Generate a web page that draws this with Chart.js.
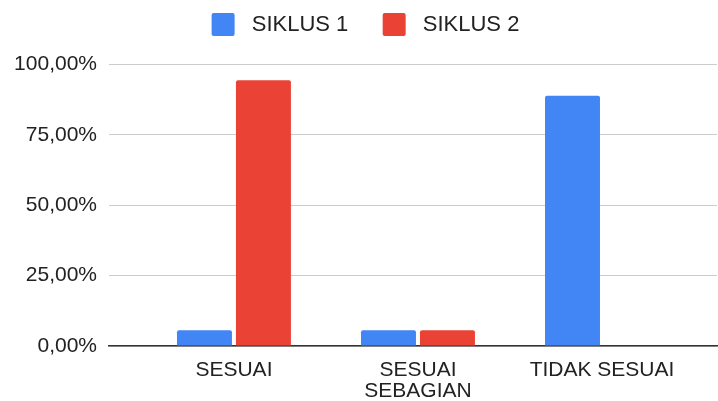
<!DOCTYPE html>
<html>
<head>
<meta charset="utf-8">
<script src="https://cdn.jsdelivr.net/npm/chart.js@4/dist/chart.umd.min.js"></script>
<style>
  html, body { margin: 0; padding: 0; background: #fff; }
  #wrap { width: 718px; height: 401px; }
</style>
</head>
<body>
<div id="wrap"><canvas id="chart"></canvas></div>
<script>
// data
const categories = [['SESUAI'], ['SESUAI', 'SEBAGIAN'], ['TIDAK SESUAI']];
const siklus1 = [5.56, 5.56, 88.89];
const siklus2 = [94.44, 5.56, 0];
const yTicks = [0, 25, 50, 75, 100];

const FONT = "'Liberation Sans', Arial, sans-serif";
const TEXT = '#222';

const toPoints = arr => arr.map((v, i) => ({x: i, y: v}));

// push the plot area down below the legend
const legendGap = {
  id: 'legendGap',
  beforeInit(chart) {
    const fit = chart.legend.fit;
    chart.legend.fit = function () { fit.call(this); this.height += 18.6; };
  }
};

new Chart(document.getElementById('chart'), {
  type: 'bar',
  data: {
    datasets: [
      {label: 'SIKLUS 1', data: toPoints(siklus1), backgroundColor: '#4285F4',
       borderRadius: {topLeft: 2, topRight: 2}, borderSkipped: 'bottom'},
      {label: 'SIKLUS 2', data: toPoints(siklus2), backgroundColor: '#EA4335',
       borderRadius: {topLeft: 2, topRight: 2}, borderSkipped: 'bottom'}
    ]
  },
  plugins: [legendGap],
  options: {
    responsive: true,
    maintainAspectRatio: false,
    animation: false,
    layout: {padding: {top: -3, right: 1, bottom: 0, left: 14}},
    categoryPercentage: 0.641,
    barPercentage: 0.932,
    plugins: {
      tooltip: {enabled: false},
      legend: {
        position: 'top',
        labels: {
          boxWidth: 23, boxHeight: 23, padding: 16,
          color: TEXT,
          font: {family: FONT, size: 22},
          generateLabels(chart) {
            const n = chart.data.datasets.length;
            return chart.data.datasets.map((ds, i) => ({
              text: ' ' + ds.label + (i < n - 1 ? '   ' : ''),
              fillStyle: ds.backgroundColor, strokeStyle: ds.backgroundColor,
              lineWidth: 0, borderRadius: 2, datasetIndex: i, fontColor: TEXT
            }));
          }
        }
      }
    },
    scales: {
      x: {
        type: 'linear',
        offset: false,
        min: -0.679,
        max: 2.625,
        afterBuildTicks(scale) {
          scale.ticks = categories.map((c, i) => ({value: i}));
        },
        afterFit(scale) { scale.height = 55; },
        ticks: {
          autoSkip: false,
          maxRotation: 0,
          padding: 14,
          color: TEXT,
          font: {family: FONT, size: 21, lineHeight: 1.0},
          callback: (v) => categories[v]
        },
        grid: {display: false, drawTicks: false, offset: false},
        border: {display: true, color: '#333', width: 1.5}
      },
      y: {
        min: 0,
        max: 100,
        afterBuildTicks(scale) {
          scale.ticks = yTicks.map(v => ({value: v}));
        },
        afterFit(scale) { scale.width = 95; },
        ticks: {
          padding: 12,
          color: TEXT,
          font: {family: FONT, size: 21},
          callback: v => v.toFixed(2).replace('.', ',') + '%'
        },
        grid: {color: '#cccccc', lineWidth: 1, drawTicks: false},
        border: {display: false}
      }
    }
  }
});
</script>
</body>
</html>
